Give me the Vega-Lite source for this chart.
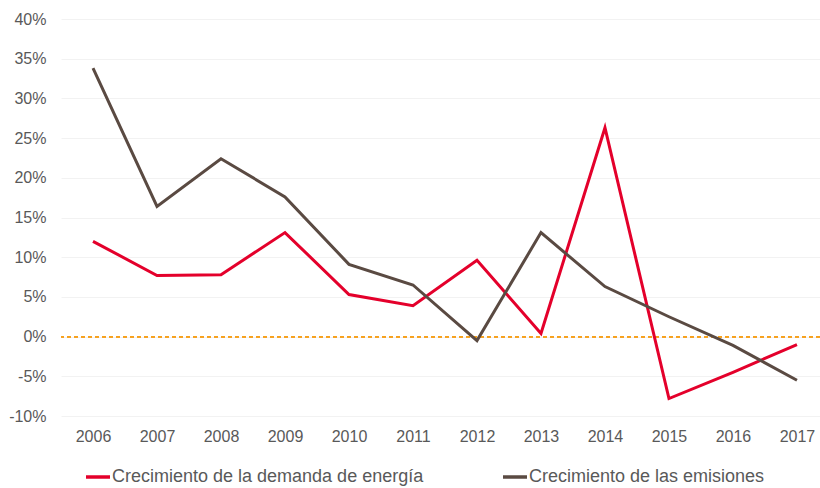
{
  "$schema": "https://vega.github.io/schema/vega-lite/v6.json",
  "width": 759,
  "height": 397,
  "autosize": {"type": "none"},
  "padding": {"left": 61, "top": 19, "right": 0, "bottom": 72},
  "background": "white",
  "config": {
    "view": {"stroke": null},
    "font": "Liberation Sans",
    "axis": {"labelFont": "Liberation Sans", "labelColor": "#595959", "labelFontSize": 16},
    "legend": {"labelFont": "Liberation Sans", "labelColor": "#595959", "labelFontSize": 18}
  },
  "data": {
    "values": [
      {"year": 2006, "series": "Crecimiento de la demanda de energía", "value": 12.0},
      {"year": 2007, "series": "Crecimiento de la demanda de energía", "value": 7.7},
      {"year": 2008, "series": "Crecimiento de la demanda de energía", "value": 7.8},
      {"year": 2009, "series": "Crecimiento de la demanda de energía", "value": 13.1},
      {"year": 2010, "series": "Crecimiento de la demanda de energía", "value": 5.3},
      {"year": 2011, "series": "Crecimiento de la demanda de energía", "value": 3.9},
      {"year": 2012, "series": "Crecimiento de la demanda de energía", "value": 9.6},
      {"year": 2013, "series": "Crecimiento de la demanda de energía", "value": 0.4},
      {"year": 2014, "series": "Crecimiento de la demanda de energía", "value": 26.3},
      {"year": 2015, "series": "Crecimiento de la demanda de energía", "value": -7.8},
      {"year": 2016, "series": "Crecimiento de la demanda de energía", "value": -4.5},
      {"year": 2017, "series": "Crecimiento de la demanda de energía", "value": -1.0},
      {"year": 2006, "series": "Crecimiento de las emisiones", "value": 33.8},
      {"year": 2007, "series": "Crecimiento de las emisiones", "value": 16.4},
      {"year": 2008, "series": "Crecimiento de las emisiones", "value": 22.4},
      {"year": 2009, "series": "Crecimiento de las emisiones", "value": 17.6},
      {"year": 2010, "series": "Crecimiento de las emisiones", "value": 9.1},
      {"year": 2011, "series": "Crecimiento de las emisiones", "value": 6.5},
      {"year": 2012, "series": "Crecimiento de las emisiones", "value": -0.5},
      {"year": 2013, "series": "Crecimiento de las emisiones", "value": 13.1},
      {"year": 2014, "series": "Crecimiento de las emisiones", "value": 6.3},
      {"year": 2015, "series": "Crecimiento de las emisiones", "value": 2.5},
      {"year": 2016, "series": "Crecimiento de las emisiones", "value": -1.1},
      {"year": 2017, "series": "Crecimiento de las emisiones", "value": -5.5}
    ]
  },
  "encoding": {
    "x": {
      "field": "year",
      "type": "quantitative",
      "scale": {"domain": [2005.5, 2017.36], "nice": false, "zero": false},
      "axis": {
        "title": null,
        "values": [2006, 2007, 2008, 2009, 2010, 2011, 2012, 2013, 2014, 2015, 2016, 2017],
        "format": "d",
        "ticks": false,
        "domain": false,
        "grid": false,
        "labelPadding": 12,
        "labelAngle": 0,
        "labelFlush": false,
        "labelOverlap": false
      }
    },
    "y": {
      "field": "value",
      "type": "quantitative",
      "scale": {"domain": [-10, 40], "nice": false, "zero": false},
      "axis": {
        "title": null,
        "values": [-10, -5, 0, 5, 10, 15, 20, 25, 30, 35, 40],
        "labelExpr": "toString(datum.value) + '%'",
        "ticks": false,
        "domain": false,
        "labelPadding": 15,
        "gridColor": "#f2f2f2",
        "gridWidth": 1
      }
    }
  },
  "layer": [
    {
      "mark": {"type": "rule", "color": "#f7a21b", "strokeDash": [4, 3], "strokeWidth": 1},
      "encoding": {"y": {"datum": 0}, "x": null}
    },
    {
      "mark": {"type": "line", "strokeWidth": 3},
      "encoding": {
        "color": {
          "field": "series",
          "type": "nominal",
          "scale": {
            "domain": ["Crecimiento de la demanda de energía", "Crecimiento de las emisiones"],
            "range": ["#e4002b", "#5a4a42"]
          },
          "legend": {
            "title": null,
            "orient": "none",
            "legendX": 23,
            "legendY": 444,
            "direction": "horizontal",
            "columns": 2,
            "columnPadding": 72,
            "symbolType": "stroke",
            "symbolSize": 576,
            "symbolStrokeWidth": 3.5,
            "labelOffset": 0,
            "labelLimit": 0
          }
        }
      }
    }
  ]
}
